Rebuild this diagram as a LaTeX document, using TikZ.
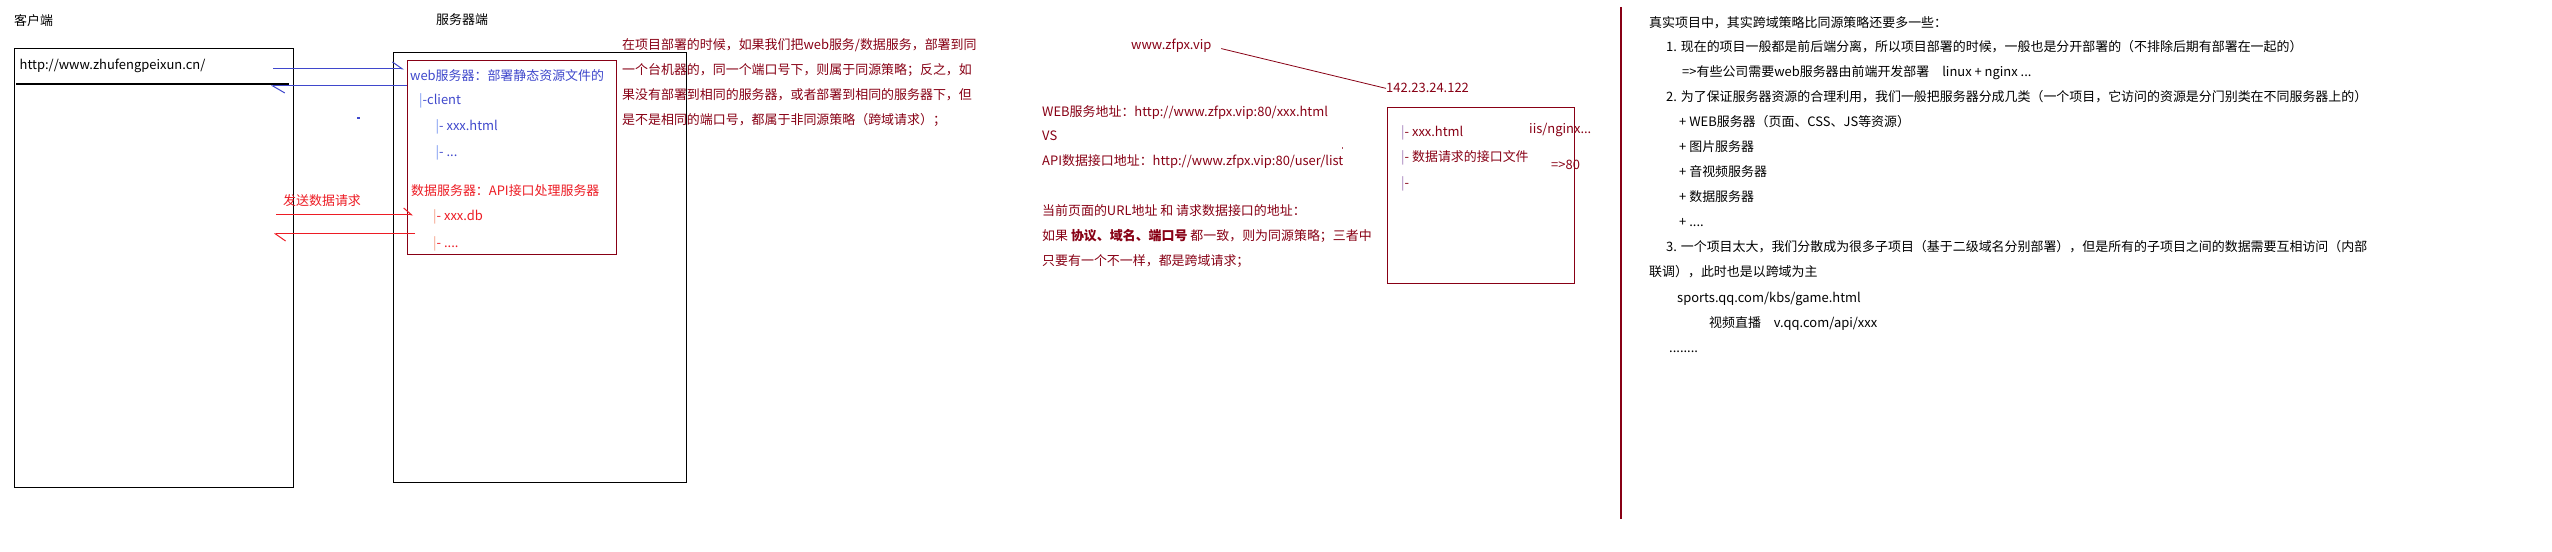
\documentclass[tikz,border=0pt]{standalone}
\usepackage{fontspec}
\newfontfamily\cjk{Noto Sans CJK SC}
\usetikzlibrary{arrows.meta}
\definecolor{dred}{HTML}{880015}
\definecolor{pred}{HTML}{ED1C24}
\definecolor{pblue}{HTML}{3F48CC}
\definecolor{barblue}{HTML}{7090F0}
\definecolor{barred}{HTML}{F59A80}
\definecolor{bardred}{HTML}{A07AB8}
\newcommand\mybar[1]{\textcolor{#1}{|}}
\tikzset{
 txt/.style={anchor=base west, inner sep=0pt, font=\cjk\fontsize{13}{16}\selectfont},
 box/.style={draw, line width=1.3bp, anchor=north west, inner sep=0pt},
 harp/.style={-{Straight Barb[harpoon,length=#1,width=14bp]}, line width=1bp},
 harp/.default=10bp
}
\begin{document}
\begin{tikzpicture}[x=1bp,y=-1bp]
\useasboundingbox (0,0) rectangle (2552,552);
\fill[white] (0,0) rectangle (2552,552);
% boxes
\node[box, minimum width=279bp, minimum height=439bp] (client) at (13.5,48) {};
\node[box, minimum width=293bp, minimum height=430bp] (server) at (393,52) {};
\node[box, draw=dred, line width=1.2bp, minimum width=209bp, minimum height=194bp] (inner) at (407,60) {};
\node[box, draw=dred, line width=1.2bp, minimum width=187bp, minimum height=176bp] (midbox) at (1387,107) {};
\coordinate (sepL) at (16,84);
\coordinate (sepR) at (289,84);
\draw[line width=1.2bp] (sepL) -- (sepR);
% arrows
\coordinate (b1s) at (273,69); \coordinate (b1e) at (404,69);
\coordinate (b2s) at (407,86); \coordinate (b2e) at (271,86);
\coordinate (r1s) at (276,215); \coordinate (r1e) at (413,215);
\coordinate (r2s) at (415,234); \coordinate (r2e) at (274,234);
\draw[harp, pblue] (b1s) -- (b1e);
\draw[harp=12bp, pblue] (b2s) -- (b2e);
\draw[harp=8bp, pred] (r1s) -- (r1e);
\draw[harp=10bp, pred] (r2s) -- (r2e);
% vertical divider
\coordinate (vl1) at (1621,7); \coordinate (vl2) at (1621,519);
\draw[dred, line width=1.4bp] (vl1) -- (vl2);
% specks
\fill[pblue] (357,117.3) rectangle (359.5,118.7);
\fill[dred!70] (1341.5,147) rectangle (1342.5,149);
% left labels
\node[txt] (kh) at (14,26) {客户端};
\node[txt] (fw) at (436,25) {服务器端};
\node[txt] (url) at (19.5,70) {http://www.zhufengpeixun.cn/};
\node[txt,pblue] (web) at (410,81) {web服务器：部署静态资源文件的};
\node[txt,pblue] (cl) at (419,105) {\mybar{barblue}-client};
\node[txt,pblue] (xh) at (435.5,131) {\mybar{barblue}- xxx.html};
\node[txt,pblue] (dd) at (435.5,157) {\mybar{barblue}- ...};
\node[txt,pred] (sj) at (411,196) {数据服务器：API接口处理服务器};
\node[txt,pred] (db) at (433,221) {\mybar{barred}- xxx.db};
\node[txt,pred] (d4) at (433,248) {\mybar{barred}- ....};
\node[txt,pred] (fs) at (283,206) {发送数据请求};
% paragraph
\node[txt,dred] (p1) at (622,50) {在项目部署的时候，如果我们把web服务/数据服务，部署到同};
\node[txt,dred] (p2) at (622,75) {一个台机器的，同一个端口号下，则属于同源策略；反之，如};
\node[txt,dred] (p3) at (622,100) {果没有部署到相同的服务器，或者部署到相同的服务器下，但};
\node[txt,dred] (p4) at (622,125) {是不是相同的端口号，都属于非同源策略（跨域请求）；};
% middle
\node[txt,dred] (www) at (1131,50) {www.zfpx.vip};
\node[txt,dred] (ip) at (1386,93) {142.23.24.122};
\draw[dred, line width=0.8bp, shorten <=10bp] (www.east) -- (ip.west);
\node[txt,dred] (m1) at (1042,117) {WEB服务地址：http://www.zfpx.vip:80/xxx.html};
\node[txt,dred] (m2) at (1042,141) {VS};
\node[txt,dred] (m3) at (1042,166) {API数据接口地址：http://www.zfpx.vip:80/user/list};
\node[txt,dred] (m4) at (1042,216) {当前页面的URL地址 和 请求数据接口的地址：};
\node[txt,dred] (m5) at (1042,241) {如果 \textbf{协议、域名、端口号} 都一致，则为同源策略；三者中};
\node[txt,dred] (m6) at (1042,266) {只要有一个不一样，都是跨域请求；};
\node[txt,dred] (k1) at (1401,137) {\mybar{bardred}- xxx.html};
\node[txt,dred] (k2) at (1401,162) {\mybar{bardred}- 数据请求的接口文件};
\node[txt,dred] (k3) at (1401,188) {\mybar{bardred}-};
\node[txt,dred] (iis) at (1529,134) {iis/nginx...};
\node[txt,dred] (p80) at (1551,170) {=>80};
% right column
\node[txt] (r1) at (1649,28) {真实项目中，其实跨域策略比同源策略还要多一些：};
\node[txt] (r2) at (1666,52) {1. 现在的项目一般都是前后端分离，所以项目部署的时候，一般也是分开部署的（不排除后期有部署在一起的）};
\node[txt] (r3) at (1682,77) {=>有些公司需要web服务器由前端开发部署\quad linux + nginx ...};
\node[txt] (r4) at (1666,102) {2. 为了保证服务器资源的合理利用，我们一般把服务器分成几类（一个项目，它访问的资源是分门别类在不同服务器上的）};
\node[txt] (r5) at (1679,127) {+ WEB服务器（页面、CSS、JS等资源）};
\node[txt] (r6) at (1679,152) {+ 图片服务器};
\node[txt] (r7) at (1679,177) {+ 音视频服务器};
\node[txt] (r8) at (1679,202) {+ 数据服务器};
\node[txt] (r9) at (1679,227) {+ ....};
\node[txt] (r10) at (1666,252) {3. 一个项目太大，我们分散成为很多子项目（基于二级域名分别部署），但是所有的子项目之间的数据需要互相访问（内部};
\node[txt] (r11) at (1649,277) {联调），此时也是以跨域为主};
\node[txt] (r12) at (1677,303) {sports.qq.com/kbs/game.html};
\node[txt] (r13) at (1709,328) {视频直播\quad v.qq.com/api/xxx};
\node[txt] (r14) at (1669,352) {........};
\end{tikzpicture}
\end{document}
